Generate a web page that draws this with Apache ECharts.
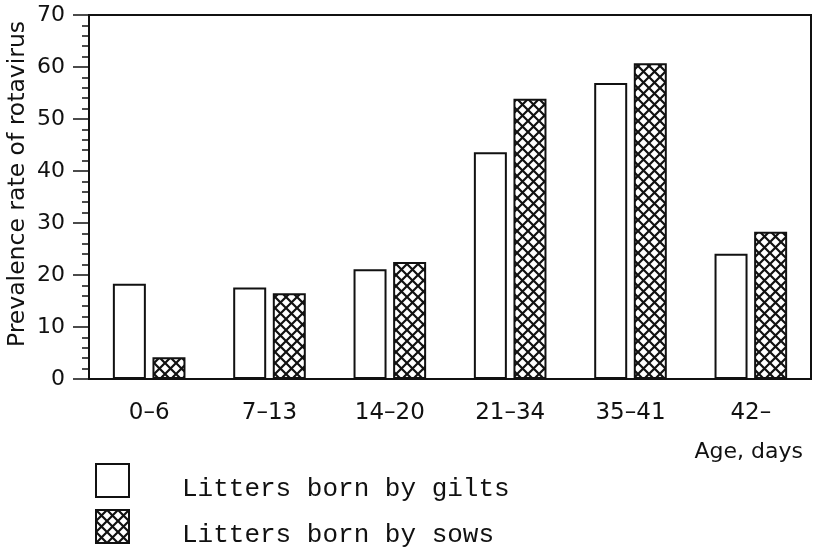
<!DOCTYPE html>
<html>
<head>
<meta charset="utf-8">
<script src="https://cdn.jsdelivr.net/npm/echarts@6/dist/echarts.min.js"></script>
<style>
html,body{margin:0;padding:0;background:#fff;}
#chart{width:813px;height:554px;}
</style>
</head>
<body>
<div id="chart"></div>
<script>
const categories = ['0–6', '7–13', '14–20', '21–34', '35–41', '42–'];
const gilts = [18.3, 17.6, 21.1, 43.6, 56.9, 24.1];
const sows = [4.2, 16.5, 22.5, 53.9, 60.7, 28.3];
const seriesNames = ['Litters born by gilts', 'Litters born by sows'];
const yTicks = { min: 0, max: 70, interval: 10 };

const ink = '#111';
function hatch() {
  const s = 11;
  const c = document.createElement('canvas');
  c.width = s; c.height = s;
  const g = c.getContext('2d');
  g.fillStyle = '#fff';
  g.fillRect(0, 0, s, s);
  g.strokeStyle = ink;
  g.lineWidth = 2.2;
  g.beginPath();
  g.moveTo(-1, -1); g.lineTo(s + 1, s + 1);
  g.moveTo(s + 1, -1); g.lineTo(-1, s + 1);
  g.stroke();
  return { image: c, repeat: 'repeat' };
}

function legendFor(name, top) {
  return {
    orient: 'vertical', left: 95, top: top, padding: 0,
    itemWidth: 33, itemHeight: 33,
    icon: 'rect',
    itemStyle: { borderColor: ink, borderWidth: 2 },
    formatter: function (n) { return '\n' + n; },
    textStyle: { fontFamily: 'Liberation Mono', fontSize: 26, lineHeight: 18, color: ink, padding: [0, 0, 0, 48] },
    data: [name]
  };
}

const chart = echarts.init(document.getElementById('chart'));
chart.setOption({
  animation: false,
  backgroundColor: '#fff',
  grid: { left: 89, right: 2, top: 15, bottom: 175, outerBoundsMode: 'none', containLabel: false,
          show: true, borderColor: ink, borderWidth: 2, backgroundColor: 'transparent' },
  legend: [legendFor(seriesNames[0], 458.5), legendFor(seriesNames[1], 504.5)],
  xAxis: {
    type: 'category', data: categories,
    name: 'Age, days', nameLocation: 'end', nameGap: -8, nameMoveOverlap: false,
    nameTextStyle: { fontFamily: 'DejaVu Sans', fontSize: 22, color: ink, align: 'right', verticalAlign: 'top', padding: [62, 0, 0, 0] },
    axisLine: { lineStyle: { color: ink, width: 2 } },
    axisTick: { alignWithLabel: true, length: 16, lineStyle: { color: ink, width: 2 } },
    axisLabel: { fontFamily: 'DejaVu Sans', fontSize: 23, color: ink, margin: 23 },
    splitLine: { show: false }
  },
  yAxis: {
    type: 'value', min: yTicks.min, max: yTicks.max, interval: yTicks.interval,
    name: 'Prevalence rate of rotavirus', nameLocation: 'middle', nameGap: 59, nameRotate: 90, nameMoveOverlap: false,
    nameTextStyle: { fontFamily: 'DejaVu Sans', fontSize: 23.5, color: ink, padding: [0, 0, 0, 26] },
    axisLine: { show: true, lineStyle: { color: ink, width: 2 } },
    axisTick: { show: true, length: 16, lineStyle: { color: ink, width: 1.5 } },
    minorTick: { show: true, splitNumber: 5, length: 7, lineStyle: { color: ink, width: 1.5 } },
    axisLabel: { fontFamily: 'DejaVu Sans', fontSize: 22, color: ink, margin: 24 },
    splitLine: { show: false }
  },
  series: [
    { name: seriesNames[0], type: 'bar', data: gilts, barWidth: 33, barGap: '20%',
      itemStyle: { color: '#fff', borderColor: ink, borderWidth: 2 } },
    { name: seriesNames[1], type: 'bar', data: sows, barWidth: 33, barGap: '20%',
      itemStyle: { color: hatch(), borderColor: ink, borderWidth: 2 } }
  ]
});
</script>
</body>
</html>
